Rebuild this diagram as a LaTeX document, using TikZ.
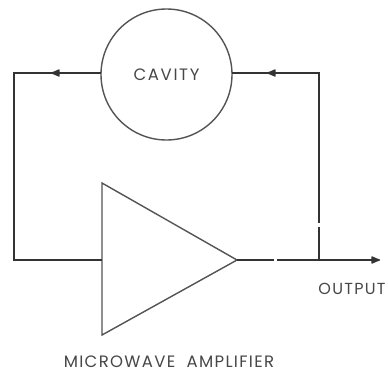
\documentclass[tikz,border=0pt]{standalone}
\usepackage{fontspec}
\setmainfont{Poppins}
\newfontfamily\labA[LetterSpace=8]{Poppins}
\newfontfamily\labB[LetterSpace=10]{Poppins}
\usetikzlibrary{arrows.meta}
\definecolor{ink}{gray}{0.2}
\definecolor{inkthin}{gray}{0.33}
\tikzset{
 wire/.style={draw=ink,line width=1.5pt},
 thin wire/.style={draw=inkthin,line width=1.4pt},
 tip/.style={-{Latex[length=11pt,width=8.5pt,round]}},
 lab/.style={text=black!72,inner sep=0pt}
}
\begin{document}
\begin{tikzpicture}[x=1pt,y=-1pt]
\useasboundingbox (0,0) rectangle (388,372);
\fill[white] (0,0) rectangle (388,372);
\node[circle,thin wire,minimum size=131pt,inner sep=0pt,text=black!72,font=\labB\fontsize{16.5}{19}\selectfont] (cav) at (166.5,74.5) {CAVITY};
\coordinate (a1) at (319,73);
\coordinate (a2) at (14,73);
\coordinate (a3) at (14,260);
\coordinate (tipR) at (237,260);
\coordinate (tl) at (102,183);
\coordinate (bl) at (102,335);
\coordinate (il) at (102,260);
\coordinate (j) at (319,260);
\coordinate (o) at (380,260);
\coordinate (hg1) at (274,260);
\coordinate (hg2) at (277,260);
\coordinate (vg1) at (319,223);
\coordinate (vg2) at (319,227);
\coordinate (cr) at (232,73);
\coordinate (cl) at (101,73);
\coordinate (m1) at (267,73);
\coordinate (m1s) at (283,73);
\coordinate (m2) at (51,73);
\coordinate (m2s) at (67,73);
\draw[thin wire,line join=miter] (tl) -- (bl) -- (tipR) -- cycle;
\draw[wire,line join=miter] (cr) -- (a1) -- (vg1);
\draw[wire] (vg2) -- (j);
\draw[wire,line join=miter] (cl) -- (a2) -- (a3) -- (il);
\draw[wire] (tipR) -- (hg1);
\draw[wire] (hg2) -- (j);
\draw[wire,tip] (j) -- (o);
\draw[wire,tip] (m1s) -- (m1);
\draw[wire,tip] (m2s) -- (m2);
\node[lab,font=\labA\fontsize{16}{18}\selectfont] (out) at (352,289) {OUTPUT};
\node[lab,font=\labA\fontsize{16.5}{18}\selectfont] (amp) at (169,362) {MICROWAVE\ \ AMPLIFIER};
\end{tikzpicture}
\end{document}
